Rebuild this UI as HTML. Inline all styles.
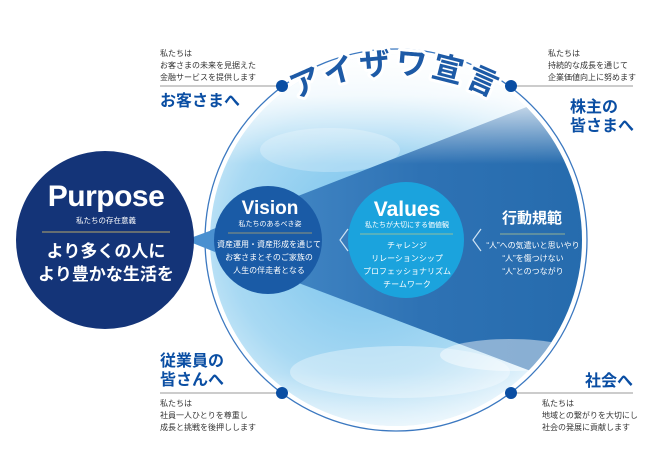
<!DOCTYPE html>
<html><head><meta charset="utf-8"><style>
html,body{margin:0;padding:0;background:#fff;}
svg{display:block;font-family:"Liberation Sans","Noto Sans CJK JP",sans-serif;}
</style></head><body>
<svg width="650" height="461" viewBox="0 0 650 461" xmlns="http://www.w3.org/2000/svg">
<defs>
<radialGradient id="sky" cx="0.42" cy="0.5" r="0.62">
<stop offset="0" stop-color="#74c1ec"/><stop offset="0.6" stop-color="#a8d9f3"/><stop offset="1" stop-color="#f4fafe"/>
</radialGradient>
<linearGradient id="topfade" x1="0" y1="0" x2="0" y2="1">
<stop offset="0" stop-color="#fff" stop-opacity="1"/><stop offset="0.12" stop-color="#fff" stop-opacity="0.85"/><stop offset="0.3" stop-color="#fff" stop-opacity="0"/>
<stop offset="0.85" stop-color="#fff" stop-opacity="0"/><stop offset="1" stop-color="#fff" stop-opacity="0.6"/>
</linearGradient>
<linearGradient id="beam" x1="0" y1="0" x2="1" y2="0">
<stop offset="0" stop-color="#4e93cf"/><stop offset="0.5" stop-color="#2e72b4"/><stop offset="1" stop-color="#2268aa"/>
</linearGradient>
<clipPath id="cc"><circle cx="396" cy="240" r="186"/></clipPath>
<path id="arc" d="M 186 284 A 210 210 0 0 1 606 284" />
</defs>
<circle cx="396" cy="240" r="191" fill="#fff" stroke="#3b78c0" stroke-width="1.3"/>
<circle cx="396" cy="240" r="186" fill="url(#sky)"/>
<g clip-path="url(#cc)">
<ellipse cx="330" cy="150" rx="70" ry="22" fill="#fff" opacity="0.25"/>
<ellipse cx="400" cy="372" rx="110" ry="26" fill="#fff" opacity="0.35"/>
<polygon points="185,240 660,55 660,420" fill="url(#beam)"/>
<ellipse cx="510" cy="355" rx="70" ry="16" fill="#fff" opacity="0.45"/>
<rect x="200" y="50" width="400" height="380" fill="url(#topfade)"/>
</g>
<polygon points="185,240 215,229 215,252" fill="#4a90d0"/>
<!-- title -->
<text font-size="31" font-weight="bold" fill="#1d5aa6" letter-spacing="4" stroke="#fff" stroke-width="6" paint-order="stroke" stroke-linejoin="round"><textPath href="#arc" startOffset="50%" text-anchor="middle">アイザワ宣言</textPath></text>
<!-- dots & lines -->
<line x1="160" y1="86" x2="282" y2="86" stroke="#999" stroke-width="1"/>
<line x1="511" y1="86" x2="633" y2="86" stroke="#999" stroke-width="1"/>
<line x1="160" y1="393" x2="282" y2="393" stroke="#999" stroke-width="1"/>
<line x1="511" y1="393" x2="633" y2="393" stroke="#999" stroke-width="1"/>
<circle cx="282" cy="86" r="6" fill="#0a4ea3"/><circle cx="511" cy="86" r="6" fill="#0a4ea3"/>
<circle cx="282" cy="393" r="6" fill="#0a4ea3"/><circle cx="511" cy="393" r="6" fill="#0a4ea3"/>
<g font-size="8" fill="#333">
<text x="160" y="56">私たちは</text><text x="160" y="68">お客さまの未来を見据えた</text><text x="160" y="80">金融サービスを提供します</text>
<text x="548" y="56">私たちは</text><text x="548" y="68">持続的な成長を通じて</text><text x="548" y="80">企業価値向上に努めます</text>
<text x="160" y="406">私たちは</text><text x="160" y="418">社員一人ひとりを尊重し</text><text x="160" y="430">成長と挑戦を後押しします</text>
<text x="542" y="406">私たちは</text><text x="542" y="418">地域との繋がりを大切にし</text><text x="542" y="430">社会の発展に貢献します</text>
</g>
<g font-size="16" font-weight="bold" fill="#0a4ea3">
<text x="160" y="106">お客さまへ</text>
<text x="570" y="112">株主の</text><text x="570" y="131">皆さまへ</text>
<text x="160" y="366">従業員の</text><text x="160" y="385">皆さんへ</text>
<text x="633" y="386" text-anchor="end">社会へ</text>
</g>
<!-- Purpose -->
<circle cx="105" cy="240" r="89" fill="#143478"/>
<text x="106" y="206" text-anchor="middle" font-size="30" font-weight="bold" fill="#fff" letter-spacing="-0.5">Purpose</text>
<text x="106" y="223" text-anchor="middle" font-size="7.5" fill="#fff">私たちの存在意義</text>
<line x1="42" y1="232" x2="170" y2="232" stroke="#b9a96a" stroke-width="1"/>
<text x="106" y="257" text-anchor="middle" font-size="17" font-weight="bold" fill="#fff">より多くの人に</text>
<text x="106" y="280" text-anchor="middle" font-size="17" font-weight="bold" fill="#fff">より豊かな生活を</text>
<!-- Vision -->
<circle cx="268" cy="240" r="54" fill="#1a5ba6"/>
<text x="270" y="214" text-anchor="middle" font-size="19" font-weight="bold" fill="#fff">Vision</text>
<text x="270" y="226" text-anchor="middle" font-size="7" fill="#fff">私たちのあるべき姿</text>
<line x1="228" y1="233" x2="312" y2="233" stroke="#b9a96a" stroke-width="0.8"/>
<g font-size="8" fill="#fff" text-anchor="middle">
<text x="269" y="247">資産運用・資産形成を通じて</text><text x="269" y="260">お客さまとそのご家族の</text><text x="269" y="273">人生の伴走者となる</text>
</g>
<!-- chevrons -->
<polyline points="348,229 340,240 348,251" fill="none" stroke="#cfe3f3" stroke-width="1.2"/>
<polyline points="481,229 473,240 481,251" fill="none" stroke="#cfe3f3" stroke-width="1.2"/>
<!-- Values -->
<circle cx="406" cy="240" r="58" fill="#1ba3dd"/>
<text x="407" y="216" text-anchor="middle" font-size="21" font-weight="bold" fill="#fff">Values</text>
<text x="407" y="227" text-anchor="middle" font-size="7" fill="#fff">私たちが大切にする価値観</text>
<line x1="360" y1="234" x2="453" y2="234" stroke="#b9c98a" stroke-width="0.8"/>
<g font-size="8" fill="#fff" text-anchor="middle">
<text x="407" y="248">チャレンジ</text><text x="407" y="261">リレーションシップ</text><text x="407" y="274">プロフェッショナリズム</text><text x="407" y="287">チームワーク</text>
</g>
<!-- 行動規範 -->
<text x="532" y="223" text-anchor="middle" font-size="15" font-weight="bold" fill="#fff">行動規範</text>
<line x1="500" y1="234" x2="565" y2="234" stroke="#b9c98a" stroke-width="0.8"/>
<g font-size="8" fill="#fff" text-anchor="middle">
<text x="533" y="248">“人”への気遣いと思いやり</text><text x="533" y="261">“人”を傷つけない</text><text x="533" y="274">“人”とのつながり</text>
</g>
</svg>
</body></html>
